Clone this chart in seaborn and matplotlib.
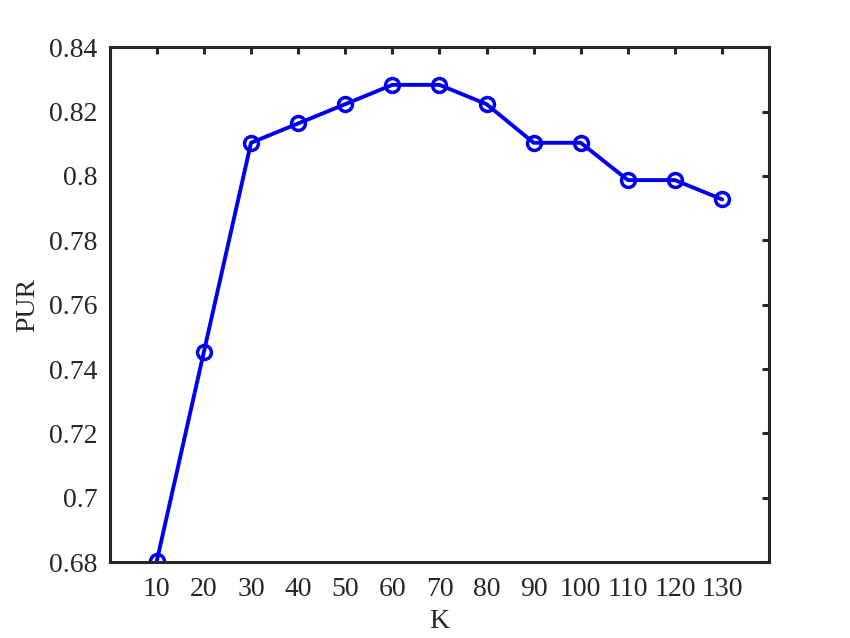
import numpy as np
import pandas as pd
import matplotlib
matplotlib.use("Agg")
import matplotlib.pyplot as plt
import seaborn as sns

# values
k_values = [10, 20, 30, 40, 50, 60, 70, 80, 90, 100, 110, 120, 130]
pur_values = [0.6803, 0.7453, 0.8103, 0.8163, 0.8223, 0.8283, 0.8283,
              0.8223, 0.8103, 0.8103, 0.7987, 0.7987, 0.7927]
y_ticks = [0.68, 0.70, 0.72, 0.74, 0.76, 0.78, 0.80, 0.82, 0.84]
y_tick_labels = ["0.68", "0.7", "0.72", "0.74", "0.76", "0.78", "0.8", "0.82", "0.84"]

df = pd.DataFrame({"K": k_values, "PUR": pur_values})

sns.set_style("white")
plt.rcParams['font.family'] = ['Liberation Serif', 'DejaVu Serif']

fig = plt.figure(figsize=(8.5, 6.38), dpi=100)
ax = fig.add_axes([0.129, 0.119, 0.776, 0.807])

sns.lineplot(data=df, x="K", y="PUR", ax=ax, color="#0000ee", linewidth=2.8,
             marker="o", markersize=10, markerfacecolor="none",
             markeredgecolor="#0000ee", markeredgewidth=2.5)

ax.set_xlim(0, 140)
ax.set_ylim(0.68, 0.84)
ax.set_xticks(k_values)
ax.set_xticklabels([str(k) for k in k_values])
ax.set_yticks(y_ticks)
ax.set_yticklabels(y_tick_labels)

for sp in ax.spines.values():
    sp.set_visible(True)
    sp.set_linewidth(2.2)
    sp.set_color("#262626")

ax.tick_params(direction="in", length=5, width=2.2, color="#262626",
               top=True, right=True, labelsize=20, labelcolor="#262626")
ax.tick_params(axis="x", pad=11)
ax.tick_params(axis="y", pad=9)
ax.set_xlabel("K", fontsize=20, color="#262626", labelpad=5)
ax.set_ylabel("PUR", fontsize=20, color="#262626", labelpad=6)

fig.savefig("out.png", dpi=100)
